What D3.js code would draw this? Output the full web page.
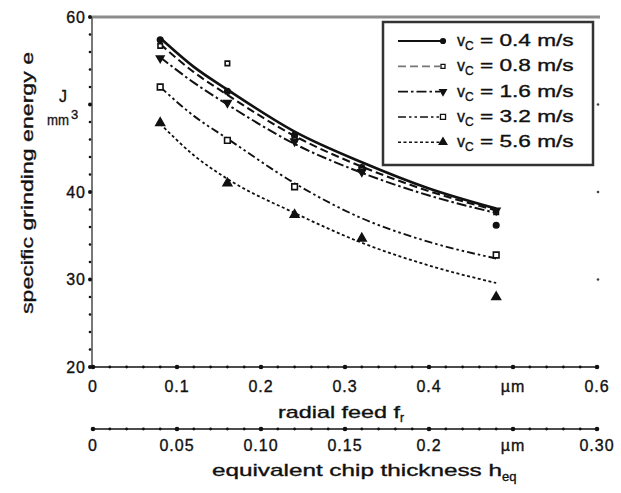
<!DOCTYPE html>
<html><head><meta charset="utf-8">
<script src="https://cdn.jsdelivr.net/npm/d3@7"></script>
<style>
body{margin:0;background:#fff}
text{font-family:"Liberation Sans",Arial,sans-serif;fill:#111;stroke:#111;stroke-width:0.35px}
</style></head>
<body><svg id="c" width="621" height="493"></svg>
<script>
// ---- data ----
const seriesNames = ["0.4", "0.8", "1.6", "3.2", "5.6"];
const pointFeed = [0.08, 0.16, 0.24, 0.32, 0.48];
const points04 = [57.4, 51.5, 46.5, 42.8, 36.2];
const points08 = [56.7, 54.7, 46.0, 42.5, 37.7];
const points16 = [55.3, 50.2, 45.8, 42.3, 37.9];
const points32 = [52.0, 45.9, 40.6, null, 32.8];
const points56 = [47.9, 41.0, 37.4, 34.7, 28.0];
const curveFeed = [0.08, 0.12, 0.16, 0.24, 0.32, 0.40, 0.48];
const curve04 = [57.6, 54.3, 51.7, 46.9, 43.4, 40.4, 38.1];
const curve08 = [56.9, 53.7, 51.1, 46.4, 42.9, 40.1, 37.9];
const curve16 = [55.4, 52.5, 50.0, 45.5, 42.2, 39.6, 37.6];
const curve32 = [52.0, 48.7, 46.1, 41.0, 37.0, 34.3, 32.4];
const curve56 = [47.8, 44.2, 41.5, 37.6, 34.2, 31.6, 29.6];
const yTickValues = [20, 30, 40, 50, 60];
const yTickLabels = ["20", "30", "40", "", "60"];
const xTickValues = [0, 0.1, 0.2, 0.3, 0.4, 0.5, 0.6];
const xTickLabels = ["0", "0.1", "0.2", "0.3", "0.4", "\u00b5m", "0.6"];
const hTickValues = [0, 0.05, 0.10, 0.15, 0.20, 0.25, 0.30];
const hTickLabels = ["0", "0.05", "0.10", "0.15", "0.2", "\u00b5m", "0.30"];

// ---- layout / style ----
const svg = d3.select("#c");
const x = d3.scaleLinear().domain([0, 0.6]).range([93, 597]);
const h = d3.scaleLinear().domain([0, 0.3]).range([93, 597]);
const y = d3.scaleLinear().domain([20, 60]).range([367, 17]);

const styles = [
  {dash: null, w: 2.6, sym: d3.symbolCircle, size: 24, fill: "#111", rot: 0},
  {dash: "8,4", w: 2.1, sym: d3.symbolSquare, size: 20, fill: "#fff", rot: 0},
  {dash: "10,3,2.5,3", w: 2, sym: d3.symbolTriangle, size: 24, fill: "#111", rot: 180},
  {dash: "8,3,2.5,3,2.5,3", w: 1.9, sym: d3.symbolSquare, size: 32, fill: "#fff", rot: 0},
  {dash: "3,2.5", w: 1.8, sym: d3.symbolTriangle, size: 32, fill: "#111", rot: 0}
];
const allPoints = [points04, points08, points16, points32, points56];
const allCurves = [curve04, curve08, curve16, curve32, curve56];

// top gray frame line
svg.append("line").attr("x1", 92).attr("x2", 600).attr("y1", y(60)).attr("y2", y(60))
  .attr("stroke", "#8c8c8c").attr("stroke-width", 3);

// left y axis
svg.append("line").attr("x1", 92).attr("x2", 92).attr("y1", y(60)).attr("y2", y(20))
  .attr("stroke", "#777").attr("stroke-width", 2);
d3.range(20, 60.1, 2).forEach(v => {
  const major = v % 10 === 0;
  svg.append("circle").attr("cx", 90).attr("cy", y(v)).attr("r", major ? 2 : 1.3).attr("fill", "#111");
});
svg.append("g").selectAll("text").data(yTickValues).join("text")
  .attr("x", 86).attr("y", d => y(d)).attr("dy", "0.36em").attr("text-anchor", "end")
  .attr("font-size", 16).attr("letter-spacing", 1)
  .text((d, i) => yTickLabels[i]);
// right side faint tick dots
[30, 40, 50].forEach(v => svg.append("circle").attr("cx", 598).attr("cy", y(v)).attr("r", 1.3).attr("fill", "#444"));

// unit J/mm3
svg.append("text").attr("x", 63).attr("y", 102).attr("text-anchor", "middle").attr("font-size", 16).text("J");
svg.append("text").attr("x", 47).attr("y", 125).attr("font-size", 15).attr("textLength", 22).attr("lengthAdjust", "spacingAndGlyphs").text("mm");
svg.append("text").attr("x", 71).attr("y", 119).attr("font-size", 13).text("3");

// y title
svg.append("text").attr("transform", "translate(33,183) rotate(-90)").attr("text-anchor", "middle")
  .attr("font-size", 17).attr("textLength", 262).attr("lengthAdjust", "spacingAndGlyphs")
  .text("specific grinding energy e");

// dotted axes
function dotAxis(yPos, scale, minorStep, majorStep, max) {
  svg.append("line").attr("x1", scale(0)).attr("x2", scale(max)).attr("y1", yPos).attr("y2", yPos)
    .attr("stroke", "#111").attr("stroke-width", 1.6);
  const n = Math.round(max / minorStep);
  d3.range(0, n + 1).forEach(i => {
    const v = i * minorStep;
    const major = Math.abs(v / majorStep - Math.round(v / majorStep)) < 1e-6;
    svg.append("circle").attr("cx", scale(v)).attr("cy", yPos).attr("r", major ? 2.3 : 1.4).attr("fill", "#111");
  });
}
dotAxis(y(20), x, 0.02, 0.1, 0.6);
svg.append("g").selectAll("text").data(xTickValues).join("text")
  .attr("x", d => x(d)).attr("y", 392).attr("text-anchor", "middle")
  .attr("font-size", 16).attr("letter-spacing", 1)
  .text((d, i) => xTickLabels[i]);
const t1 = svg.append("text").attr("x", 278).attr("y", 418).attr("font-size", 17);
t1.append("tspan").attr("textLength", 122).attr("lengthAdjust", "spacingAndGlyphs").text("radial feed f");
t1.append("tspan").attr("font-size", 12).attr("dy", 4).text("r");

dotAxis(429, h, 0.01, 0.05, 0.3);
svg.append("g").selectAll("text").data(hTickValues).join("text")
  .attr("x", d => h(d)).attr("y", 451).attr("text-anchor", "middle")
  .attr("font-size", 16).attr("letter-spacing", 1)
  .text((d, i) => hTickLabels[i]);
const t2 = svg.append("text").attr("x", 212).attr("y", 476).attr("font-size", 17);
t2.append("tspan").attr("textLength", 290).attr("lengthAdjust", "spacingAndGlyphs").text("equivalent chip thickness h");
t2.append("tspan").attr("font-size", 13).attr("dy", 5).text("eq");

// curves
const line = d3.line().x(d => x(d[0])).y(d => y(d[1])).curve(d3.curveMonotoneX);
allCurves.forEach((c, i) => {
  svg.append("path").attr("d", line(curveFeed.map((f, j) => [f, c[j]])))
    .attr("fill", "none").attr("stroke", "#111").attr("stroke-width", styles[i].w)
    .attr("stroke-dasharray", styles[i].dash);
});
// points
allPoints.forEach((p, i) => {
  const s = styles[i];
  pointFeed.forEach((f, j) => {
    if (p[j] == null) return;
    svg.append("path").attr("d", d3.symbol().type(s.sym).size(s.size)())
      .attr("transform", `translate(${x(f)},${y(p[j])}) rotate(${s.rot})`)
      .attr("fill", s.fill).attr("stroke", "#111").attr("stroke-width", 1.6);
  });
});

// legend
svg.append("rect").attr("x", 383).attr("y", 22).attr("width", 210).attr("height", 143)
  .attr("fill", "#fff").attr("stroke", "#333").attr("stroke-width", 2.5);
seriesNames.forEach((name, i) => {
  const s = styles[i];
  const cy = 41 + i * 25.3;
  svg.append("line").attr("x1", 398).attr("x2", 440).attr("y1", cy).attr("y2", cy)
    .attr("stroke", i === 1 ? "#777" : "#111").attr("stroke-width", s.w * 0.8).attr("stroke-dasharray", s.dash);
  svg.append("path").attr("d", d3.symbol().type(s.sym).size(s.size * 0.8)())
    .attr("transform", `translate(443,${cy}) rotate(${s.rot})`)
    .attr("fill", s.fill).attr("stroke", "#111").attr("stroke-width", 1.3);
  const t = svg.append("text").attr("x", 457).attr("y", cy + 5).attr("font-size", 16);
  t.append("tspan").text("v");
  t.append("tspan").attr("font-size", 12).attr("dy", 4).text("C");
  t.append("tspan").attr("dy", -4).attr("textLength", 100).attr("lengthAdjust", "spacingAndGlyphs").text(" = " + name + " m/s");
});
</script></body></html>
